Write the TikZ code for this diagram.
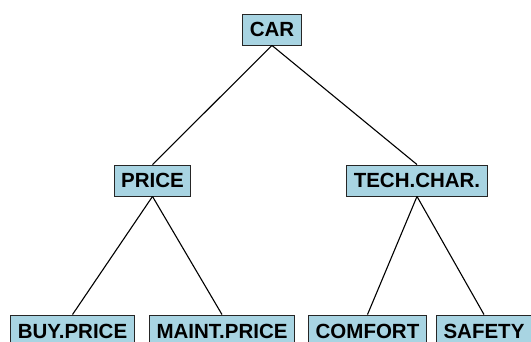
\documentclass[tikz,border=0pt]{standalone}
\usepackage{fontspec}
\setmainfont{Liberation Sans}
\definecolor{boxblue}{RGB}{168,212,226}
\begin{document}
\begin{tikzpicture}[x=1pt,y=-1pt,
  box/.style={draw=black!85,line width=0.9pt,fill=boxblue,inner xsep=7pt,inner ysep=0pt,
    minimum height=31pt,text height=15pt,text depth=0pt,font=\fontsize{20.5}{22}\selectfont\bfseries},
  link/.style={draw=black,line width=1.1pt}]
\useasboundingbox (0,0) rectangle (531,342);
\node[box] (car) at (272,29.5) {CAR};
\node[box] (price) at (152.5,180.5) {PRICE};
\node[box] (tech) at (417,180.5) {TECH.CHAR.};
\node[box] (buy) at (72.5,330.5) {BUY.PRICE};
\node[box] (maint) at (222,330.5) {MAINT.PRICE};
\node[box] (comfort) at (367.5,330.5) {COMFORT};
\node[box] (safety) at (484,330.5) {SAFETY};
\draw[link] (car.south) -- (price.north);
\draw[link] (car.south) -- (tech.north);
\draw[link] (price.south) -- (buy.north);
\draw[link] (price.south) -- (maint.north);
\draw[link] (tech.south) -- (comfort.north);
\draw[link] (tech.south) -- (safety.north);
\end{tikzpicture}
\end{document}
